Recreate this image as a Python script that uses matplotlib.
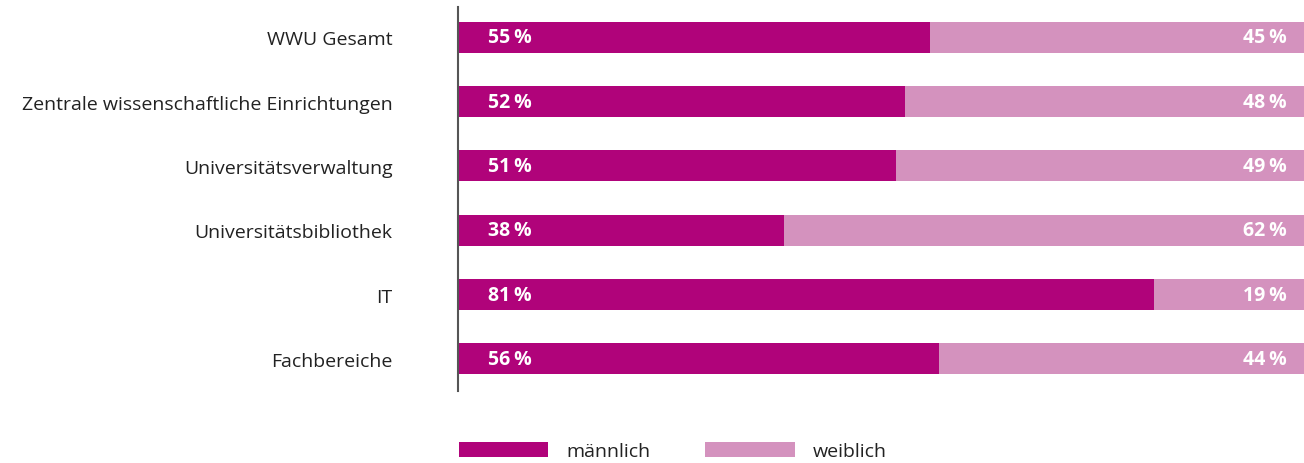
import matplotlib.pyplot as plt
import numpy as np

plt.rcParams['font.family'] = ['Open Sans', 'DejaVu Sans']

# data
categories = ['WWU Gesamt', 'Zentrale wissenschaftliche Einrichtungen',
              'Universitätsverwaltung', 'Universitätsbibliothek', 'IT', 'Fachbereiche']
maennlich = [55, 52, 51, 38, 81, 56]
weiblich = [45, 48, 49, 62, 19, 44]
series_names = ['männlich', 'weiblich']

c_m = '#b0037a'
c_w = '#d492be'

fig = plt.figure(figsize=(13.04, 4.64), dpi=100)
ax = fig.add_axes([458 / 1304, 72 / 464, 846 / 1304, 384 / 464])

y = np.arange(len(categories))
bm = ax.barh(y, maennlich, height=0.48, color=c_m, label=series_names[0])
bw = ax.barh(y, weiblich, left=maennlich, height=0.48, color=c_w, label=series_names[1])

for i in range(len(categories)):
    ax.text(3.5, y[i], f'{maennlich[i]}\u2009%', color='white', fontweight='bold',
            fontsize=14, va='center', ha='left')
    ax.text(96.5, y[i], f'{weiblich[i]}\u2009%', color='white', fontweight='bold',
            fontsize=14, va='center', ha='right')

# the bars run a bit past the right edge of the picture
ax.set_xlim(0, 98.5)
ax.set_ylim(5.5, -0.47)
ax.set_yticks(y)
ax.set_yticklabels(categories, fontsize=14, color='#222222')
ax.tick_params(axis='y', length=0, pad=47)
ax.set_xticks([])
for s in ['top', 'right', 'bottom']:
    ax.spines[s].set_visible(False)
ax.spines['left'].set_color('#555555')
ax.spines['left'].set_linewidth(1.5)

fig.legend(handles=[bm, bw], labels=series_names, loc='lower left',
           bbox_to_anchor=(459 / 1304, 3 / 464), ncol=2, frameon=False,
           fontsize=14, handlelength=4.6, handleheight=0.82, handletextpad=0.93,
           columnspacing=2.8, borderpad=0, borderaxespad=0, labelcolor='#222222')

fig.savefig('out.png', dpi=100)
